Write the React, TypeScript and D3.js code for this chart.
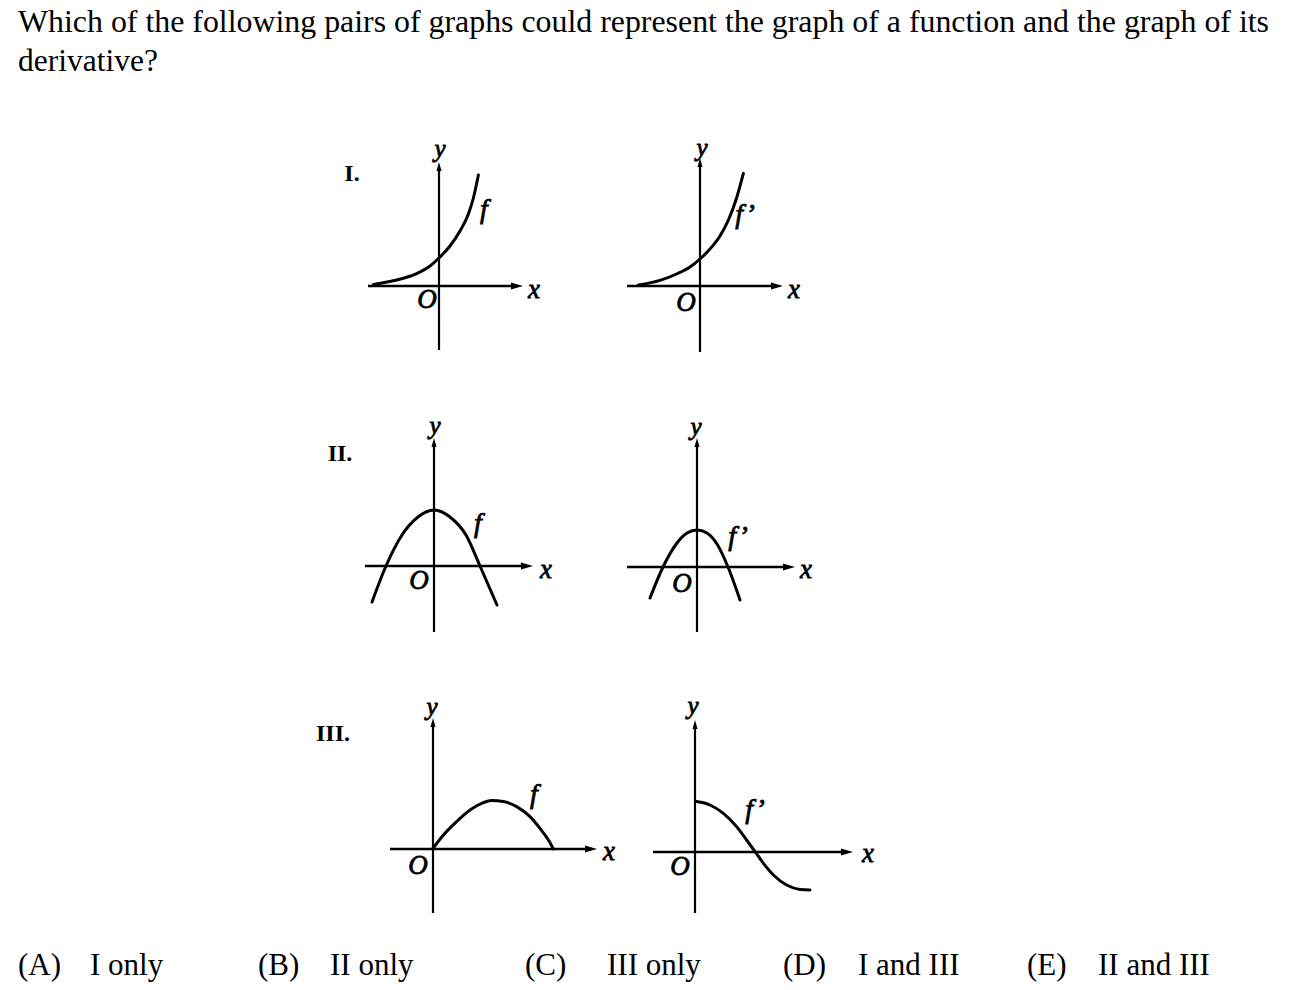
import React from 'react';
import * as d3 from 'd3';

// question text
const questionLines = [
  'Which of the following pairs of graphs could represent the graph of a function and the graph of its',
  'derivative?',
];

// answer choices
const choiceLetters = ['(A)', '(B)', '(C)', '(D)', '(E)'];
const choiceTexts = ['I only', 'II only', 'III only', 'I and III', 'II and III'];

// row labels
const rowLabels = ['I.', 'II.', 'III.'];

// curve points (x, y in grid units)
const pairIF: [number, number][] = [
  [-3.28, 0.08], [-2.12, 0.3], [-1.12, 0.62], [-0.45, 1.0], [0, 1.4],
  [0.55, 2.0], [1.05, 2.75], [1.47, 3.6], [1.72, 4.4], [1.97, 5.55],
];
const pairIDeriv: [number, number][] = [
  [-3.08, 0.05], [-2, 0.28], [-1.17, 0.6], [-0.5, 0.95], [0, 1.35],
  [0.5, 1.85], [1, 2.5], [1.42, 3.3], [1.83, 4.4], [2.17, 5.63],
];
const pairIIF: [number, number][] = [
  [-3.1, -1.8], [-2.4, 0], [-1.6, 1.55], [-0.8, 2.45], [0, 2.8],
  [0.8, 2.45], [1.6, 1.55], [2.3, 0], [3.15, -1.95],
];
const pairIIDeriv: [number, number][] = [
  [-2.35, -1.55], [-1.7, 0], [-1.0, 1.2], [-0.5, 1.7], [0, 1.85],
  [0.5, 1.7], [1.0, 1.15], [1.55, 0], [2.15, -1.65],
];
const pairIIIF: [number, number][] = [
  [0, 0.03], [0.52, 0.7], [1.18, 1.37], [1.85, 1.95], [2.52, 2.32], [2.93, 2.42],
  [3.52, 2.37], [4.18, 2.12], [4.85, 1.62], [5.35, 1.03], [5.77, 0.45], [6.02, 0],
];
const pairIIIDeriv: [number, number][] = [
  [0.08, 2.52], [0.75, 2.35], [1.42, 1.93], [2.08, 1.27], [2.58, 0.6], [3, 0.02],
  [3.42, -0.57], [3.92, -1.15], [4.58, -1.65], [5.25, -1.87], [5.75, -1.9],
];

const UNIT = 20;
const FONT = 'Liberation Serif, Times New Roman, serif';

type PanelCfg = {
  ox: number; oy: number;
  xr: [number, number]; yr: [number, number];
  pts: [number, number][];
  fname: string;
  fpos: [number, number];
  ypos: [number, number];
  xpos: [number, number];
  opos: [number, number];
};

const panels: PanelCfg[] = [
  { ox: 439, oy: 286, xr: [-3.55, 4.2], yr: [-3.2, 6.2], pts: pairIF, fname: 'f',
    fpos: [484, 208], ypos: [440, 148], xpos: [534, 289], opos: [427, 299] },
  { ox: 700, oy: 286, xr: [-3.65, 4.15], yr: [-3.3, 6.4], pts: pairIDeriv, fname: 'f\u2019',
    fpos: [745, 213], ypos: [702, 147], xpos: [794, 289], opos: [686, 302] },
  { ox: 434, oy: 566, xr: [-3.45, 4.95], yr: [-3.3, 6.4], pts: pairIIF, fname: 'f',
    fpos: [478, 522], ypos: [435, 425], xpos: [546, 569], opos: [419, 580] },
  { ox: 697, oy: 567, xr: [-3.5, 4.9], yr: [-3.25, 6.45], pts: pairIIDeriv, fname: 'f\u2019',
    fpos: [738, 535], ypos: [696, 426], xpos: [806, 569], opos: [682, 583] },
  { ox: 433, oy: 849, xr: [-2.15, 8.2], yr: [-3.2, 6.55], pts: pairIIIF, fname: 'f',
    fpos: [534, 793], ypos: [432, 706], xpos: [609, 851], opos: [418, 865] },
  { ox: 695, oy: 852, xr: [-2.1, 7.9], yr: [-3.05, 6.6], pts: pairIIIDeriv, fname: 'f\u2019',
    fpos: [755, 808], ypos: [693, 705], xpos: [868, 853], opos: [680, 866] },
];

const rowLabelPos: [number, number][] = [[352, 173], [340, 453], [333, 733]];

const choiceX = [18, 258, 525, 783, 1027];
const choiceTextX = [90, 330, 607, 858, 1098];

const Panel = ({ cfg }: { cfg: PanelCfg }) => {
  const x = d3.scaleLinear().domain([0, 1]).range([cfg.ox, cfg.ox + UNIT]);
  const y = d3.scaleLinear().domain([0, 1]).range([cfg.oy, cfg.oy - UNIT]);
  const line = d3.line<[number, number]>()
    .x(d => x(d[0]))
    .y(d => y(d[1]))
    .curve(d3.curveMonotoneX);

  const xEnd = x(cfg.xr[1]);
  const yTop = y(cfg.yr[1]);
  const lbl = (p: [number, number], t: string, size: number, key: string) => (
    <text key={key} x={p[0]} y={p[1]} fontFamily={FONT} fontStyle="italic"
      fontSize={size} textAnchor="middle" dominantBaseline="central"
      stroke="#000" strokeWidth={0.8}>{t}</text>
  );

  return (
    <g>
      <line x1={x(cfg.xr[0])} x2={xEnd - 8} y1={y(0)} y2={y(0)} stroke="#000" strokeWidth={2.4} />
      <path d={`M${xEnd},${y(0)} L${xEnd - 12},${y(0) - 3.5} L${xEnd - 12},${y(0) + 3.5} Z`} fill="#000" />
      <line x1={x(0)} x2={x(0)} y1={y(cfg.yr[0])} y2={yTop + 5} stroke="#000" strokeWidth={2.2} />
      <path d={`M${x(0)},${yTop} L${x(0) - 2.5},${yTop + 9} L${x(0) + 2.5},${yTop + 9} Z`} fill="#000" />
      <path d={line(cfg.pts) || ''} fill="none" stroke="#000" strokeWidth={3} strokeLinecap="round" />
      {lbl(cfg.ypos, 'y', 25, 'y')}
      {lbl(cfg.xpos, 'x', 27, 'x')}
      {lbl(cfg.opos, 'O', 27, 'o')}
      {lbl(cfg.fpos, cfg.fname, 28, 'f')}
    </g>
  );
};

const App = () => {
  return (
    <svg width={1295} height={990} style={{ position: 'absolute', left: 0, top: 0, background: '#fff' }}>
      <rect width={1295} height={990} fill="#fff" />
      <text x={18} y={32} fontFamily={FONT} fontSize={31.5} textLength={1251} lengthAdjust="spacingAndGlyphs">
        {questionLines[0]}
      </text>
      <text x={18} y={71} fontFamily={FONT} fontSize={31.5}>{questionLines[1]}</text>

      {rowLabels.map((r, i) => (
        <text key={r} x={rowLabelPos[i][0]} y={rowLabelPos[i][1]} fontFamily={FONT} fontWeight="bold"
          fontSize={24} textAnchor="middle" dominantBaseline="central">{r}</text>
      ))}

      {panels.map((p, i) => <Panel key={i} cfg={p} />)}

      {choiceLetters.map((c, i) => (
        <g key={c}>
          <text x={choiceX[i]} y={975} fontFamily={FONT} fontSize={31}>{c}</text>
          <text x={choiceTextX[i]} y={975} fontFamily={FONT} fontSize={31}>{choiceTexts[i]}</text>
        </g>
      ))}
    </svg>
  );
};

export default App;
